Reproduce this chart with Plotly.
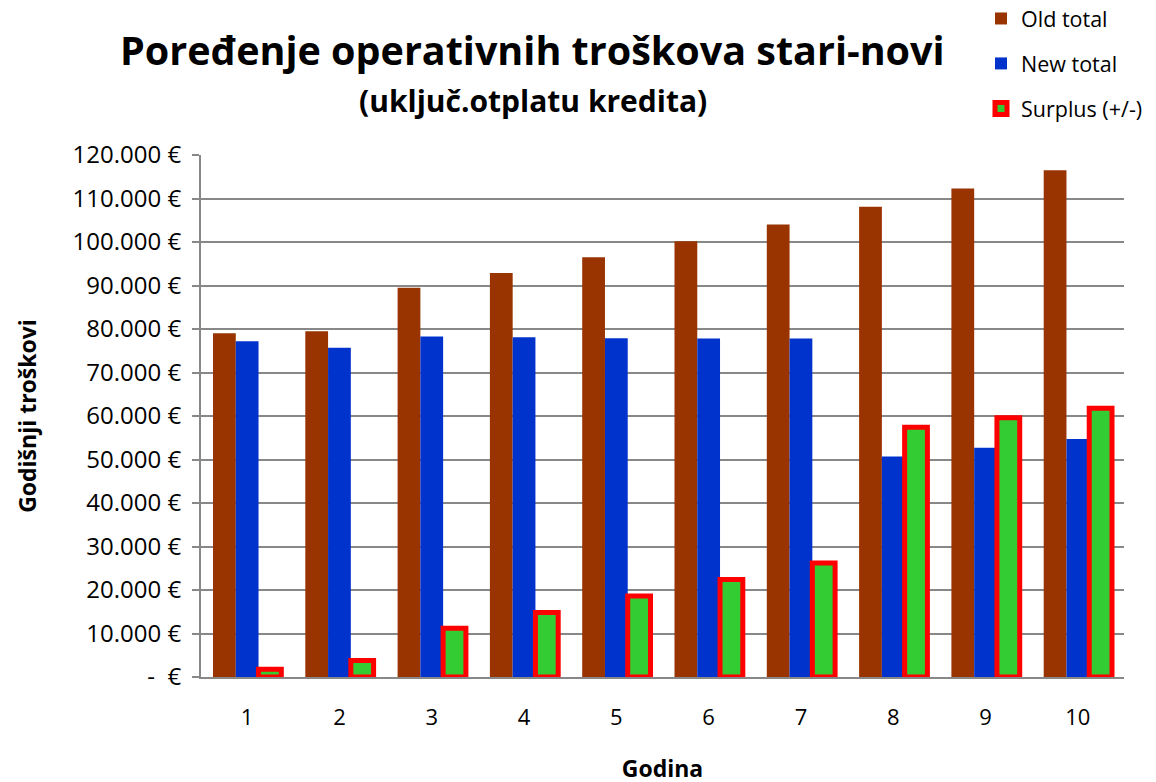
import plotly.graph_objects as go

godina = ['1', '2', '3', '4', '5', '6', '7', '8', '9', '10']
old_total = [79000, 79500, 89500, 92900, 96500, 100200, 104000, 108100, 112300, 116500]
new_total = [77200, 75700, 78300, 78100, 77900, 77800, 77800, 50700, 52700, 54700]
surplus = [1800, 3800, 11200, 14800, 18600, 22400, 26200, 57400, 59600, 61800]

tick_vals = [0, 10000, 20000, 30000, 40000, 50000, 60000, 70000, 80000, 90000, 100000, 110000, 120000]
tick_text = ['-  €', '10.000 €', '20.000 €', '30.000 €', '40.000 €', '50.000 €', '60.000 €',
             '70.000 €', '80.000 €', '90.000 €', '100.000 €', '110.000 €', '120.000 €']

font = '"Open Sans", sans-serif'

# plot area in screen pixels: x 201..1124, y 155..677
def px(x):
    return (x - 201) / 923

def py(y):
    return (677 - y) / 522

fig = go.Figure()
fig.add_trace(go.Bar(x=godina, y=old_total, name='Old total', legendgroup='a',
                     marker=dict(color='#993300', line=dict(width=0))))
fig.add_trace(go.Bar(x=godina, y=new_total, name='New total', legendgroup='b',
                     marker=dict(color='#0033CC', line=dict(width=0))))
fig.add_trace(go.Bar(x=godina, y=surplus, name='Surplus (+/-)', legendgroup='c',
                     marker=dict(color='#33CC33', line=dict(color='#FF0000', width=5))))

fig.update_layout(
    width=1156, height=782,
    paper_bgcolor='white', plot_bgcolor='white',
    font=dict(family=font, color='black', size=22),
    margin=dict(l=193, r=40, t=147, b=113, autoexpand=False),
    barmode='group', bargap=0.26, bargroupgap=0,
    showlegend=True,
    legend=dict(x=px(981), y=py(-2), xanchor='left', yanchor='top', yref='paper',
                font=dict(size=21.5), tracegroupgap=14, itemwidth=30,
                bgcolor='rgba(0,0,0,0)'),
    annotations=[
        dict(text='<b>Poređenje operativnih troškova stari-novi</b>', x=px(532), y=py(50),
             xref='paper', yref='paper', xanchor='center', yanchor='middle',
             showarrow=False, font=dict(size=39.5)),
        dict(text='<b>(uključ.otplatu kredita)</b>', x=px(533), y=py(100),
             xref='paper', yref='paper', xanchor='center', yanchor='middle',
             showarrow=False, font=dict(size=30)),
    ],
)

fig.update_yaxes(range=[0, 120000], tickvals=tick_vals, ticktext=tick_text,
                 showgrid=True, gridcolor='#888888', gridwidth=1.5,
                 showline=True, linecolor='#888888', linewidth=2,
                 ticks='outside', ticklen=7, tickcolor='#888888', tickwidth=1.5,
                 ticklabelstandoff=6, tickfont=dict(size=24),
                 title=dict(text='<b>Godišnji troškovi</b>', font=dict(size=23), standoff=30),
                 zeroline=False)
fig.update_xaxes(showline=True, linecolor='#888888', linewidth=2, ticks='',
                 ticklabelstandoff=20, tickfont=dict(size=22),
                 title=dict(text='<b>Godina</b>', font=dict(size=23), standoff=30))

fig.write_html('out.html')
